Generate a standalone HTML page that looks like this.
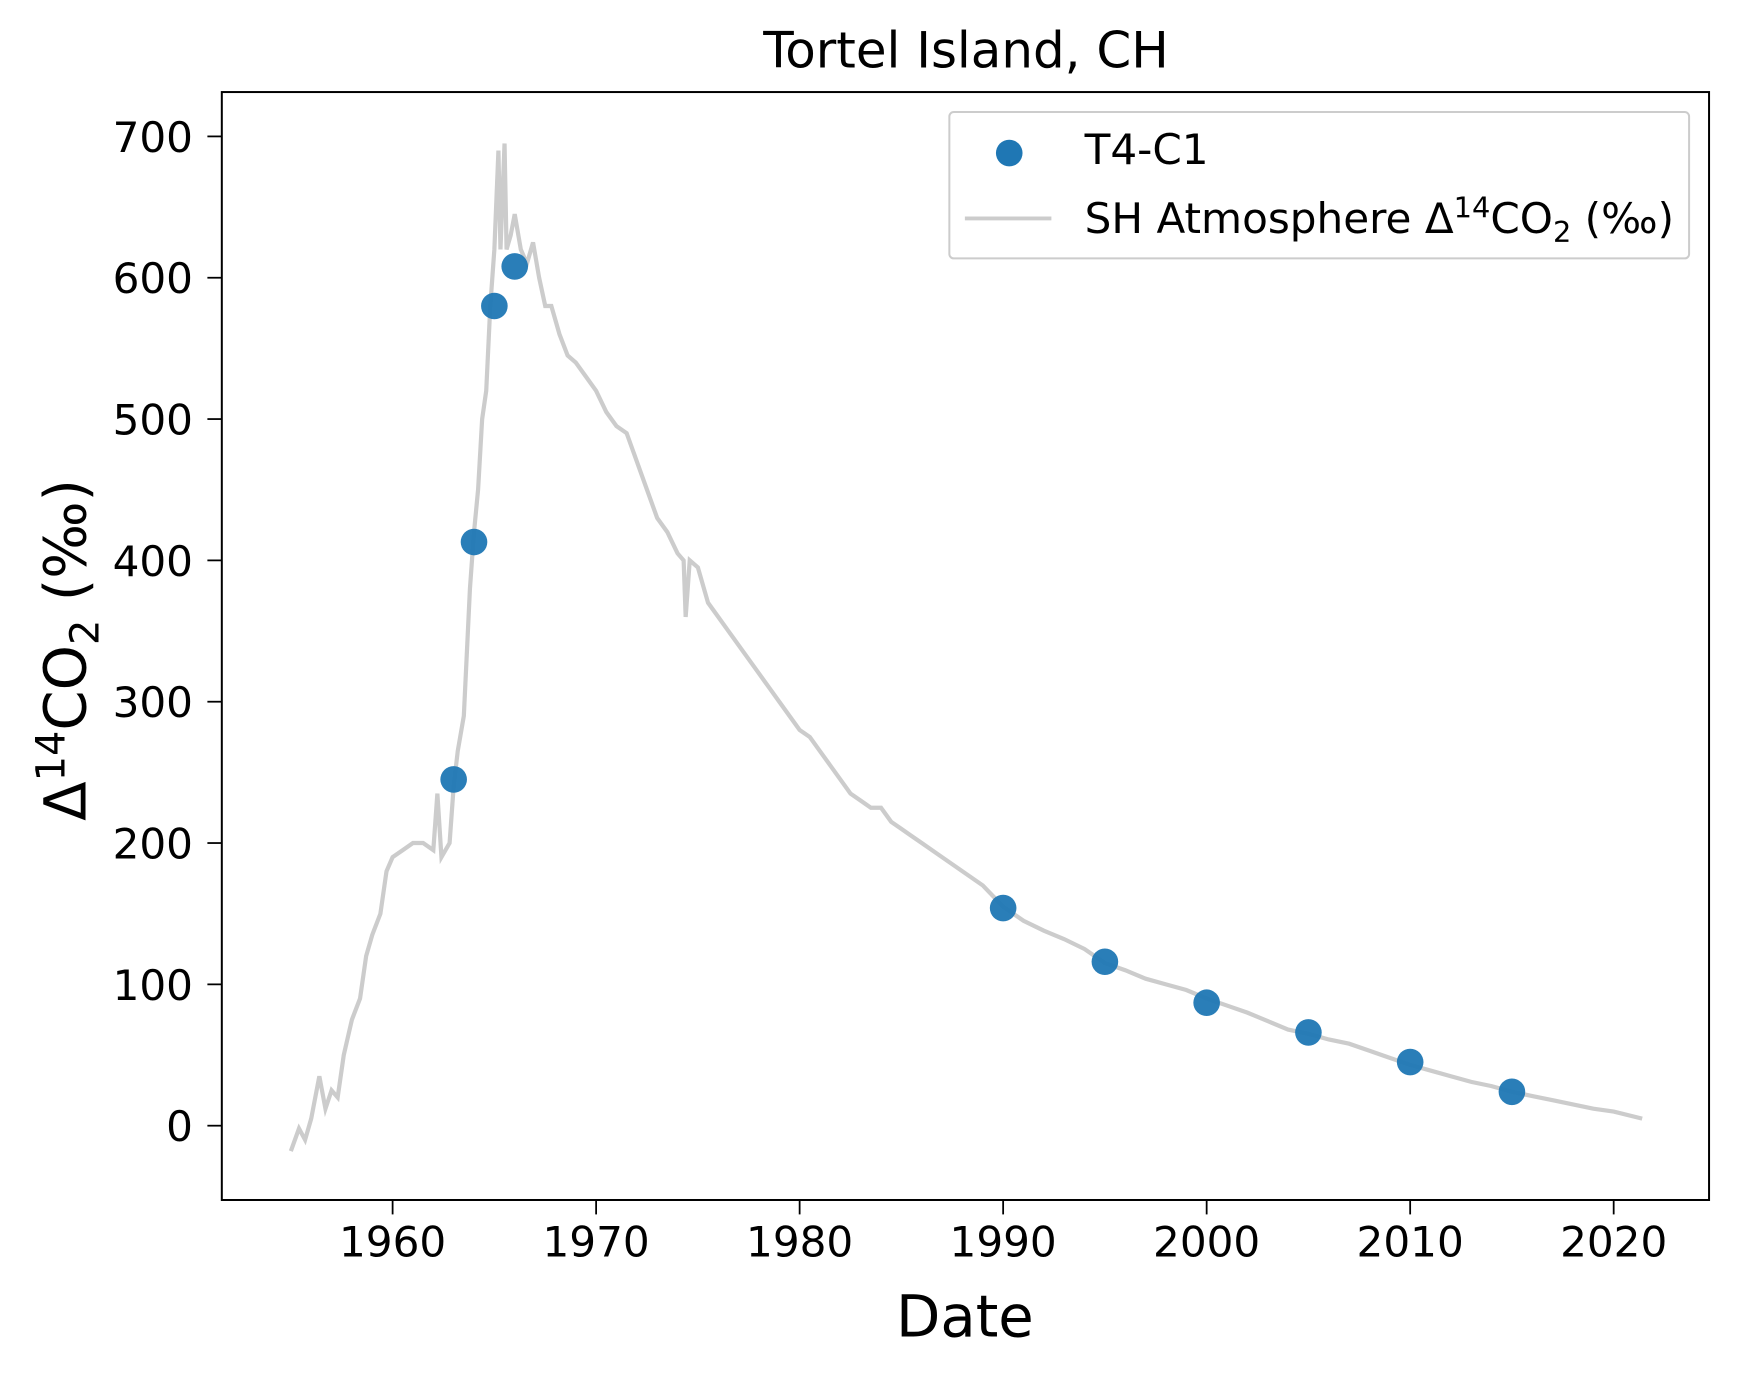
<!DOCTYPE html>
<html><head><meta charset="utf-8"><style>body{margin:0;background:#fff}svg{display:block}text{font-family:"DejaVu Sans","Liberation Sans",sans-serif;fill:#000}</style></head>
<body>
<svg id="chart" width="1739" height="1376" viewBox="0 0 1568 1240.7" preserveAspectRatio="none" xmlns="http://www.w3.org/2000/svg">
<rect width="1568" height="1240.7" fill="#fff"/>
<text x="871" y="61" font-size="45" text-anchor="middle">Tortel Island, CH</text>
<g id="plot"></g>
<rect x="200" y="83" width="1341" height="999" fill="none" stroke="#000" stroke-width="1.8"/>
<g id="ticks"></g>
<text x="870" y="1205" font-size="52" text-anchor="middle">Date</text>
<text transform="translate(77,586) rotate(-90)" font-size="52" text-anchor="middle">Δ<tspan dy="-19" font-size="36">14</tspan><tspan dy="19">CO</tspan><tspan dy="12" font-size="36">2</tspan><tspan dy="-12"> (‰)</tspan></text>
<g>
<rect x="856" y="101" width="667" height="132" rx="4" fill="#fff" fill-opacity="0.8" stroke="#ccc" stroke-width="1.8"/>
<circle cx="910" cy="138" r="12" fill="#1f77b4"/>
<text x="978" y="148" font-size="38">T4-C1</text>
<line x1="870" y1="197" x2="948" y2="197" stroke="#cccccc" stroke-width="3.5"/>
<text x="978" y="210" font-size="38">SH Atmosphere Δ<tspan dy="-14" font-size="26">14</tspan><tspan dy="14">CO</tspan><tspan dy="8" font-size="26">2</tspan><tspan dy="-8"> (‰)</tspan></text>
</g>
</svg>
<script>
const atmYears=[1955.0,1955.4,1955.7,1956.0,1956.4,1956.7,1957.0,1957.3,1957.6,1958.0,1958.4,1958.7,1959.0,1959.4,1959.7,1960.0,1960.5,1961.0,1961.5,1962.0,1962.2,1962.4,1962.8,1963.0,1963.2,1963.5,1963.8,1964.0,1964.2,1964.4,1964.6,1964.8,1965.0,1965.2,1965.3,1965.5,1965.6,1965.8,1966.0,1966.3,1966.6,1966.9,1967.2,1967.5,1967.8,1968.2,1968.6,1969.0,1969.5,1970.0,1970.5,1971.0,1971.5,1972.0,1972.5,1973.0,1973.5,1974.0,1974.3,1974.4,1974.6,1975.0,1975.5,1976.0,1976.5,1977.0,1977.5,1978.0,1978.5,1979.0,1979.5,1980.0,1980.5,1981.0,1981.5,1982.0,1982.5,1983.0,1983.5,1984.0,1984.5,1985.0,1985.5,1986.0,1987.0,1988.0,1989.0,1990.0,1991.0,1992.0,1993.0,1994.0,1995.0,1996.0,1997.0,1998.0,1999.0,2000.0,2001.0,2002.0,2003.0,2004.0,2005.0,2006.0,2007.0,2008.0,2009.0,2010.0,2011.0,2012.0,2013.0,2014.0,2015.0,2016.0,2017.0,2018.0,2019.0,2020.0,2021.4];
const atmValues=[-18,-2,-10,5,35,12,25,20,50,75,90,120,135,150,180,190,195,200,200,195,235,190,200,240,265,290,380,420,450,500,520,580,620,690,620,695,620,630,645,620,610,625,600,580,580,560,545,540,530,520,505,495,490,470,450,430,420,405,400,360,400,395,370,360,350,340,330,320,310,300,290,280,275,265,255,245,235,230,225,225,215,210,205,200,190,180,170,155,145,138,132,125,115,110,104,100,96,90,85,80,74,68,65,61,58,53,48,43,39,35,31,28,24,21,18,15,12,10,5];
const ptYears=[1963,1964,1965,1966,1990,1995,2000,2005,2010,2015];
const ptValues=[245,413,580,608,154,116,87,66,45,24];
const xTicks=[1960,1970,1980,1990,2000,2010,2020];
const yTicks=[0,100,200,300,400,500,600,700];
const NS="http://www.w3.org/2000/svg";
function X(y){return 354+(y-1960)*(1455-354)/60;}
function Y(v){return 1015-v*(1015-123)/700;}
const plot=document.getElementById('plot'),ticks=document.getElementById('ticks');
const pl=document.createElementNS(NS,'polyline');
pl.setAttribute('points',atmYears.map((y,i)=>X(y)+','+Y(atmValues[i])).join(' '));
pl.setAttribute('fill','none');pl.setAttribute('stroke','#cccccc');pl.setAttribute('stroke-width','3.8');


plot.appendChild(pl);
ptYears.forEach((y,i)=>{const c=document.createElementNS(NS,'circle');
c.setAttribute('cx',X(y));c.setAttribute('cy',Y(ptValues[i]));c.setAttribute('r','12');c.setAttribute('fill','#1f77b4');c.setAttribute('fill-opacity','0.95');


plot.appendChild(c);});
xTicks.forEach(t=>{const l=document.createElementNS(NS,'line');l.setAttribute('x1',X(t));l.setAttribute('x2',X(t));l.setAttribute('y1',1082);l.setAttribute('y2',1095);l.setAttribute('stroke','#000');l.setAttribute('stroke-width','1.6');


ticks.appendChild(l);
const tx=document.createElementNS(NS,'text');tx.setAttribute('x',X(t));tx.setAttribute('y',1133);tx.setAttribute('font-size','38');tx.setAttribute('text-anchor','middle');tx.textContent=t;


ticks.appendChild(tx);});
yTicks.forEach(t=>{const l=document.createElementNS(NS,'line');l.setAttribute('x1',187);l.setAttribute('x2',200);l.setAttribute('y1',Y(t));l.setAttribute('y2',Y(t));l.setAttribute('stroke','#000');l.setAttribute('stroke-width','1.6');


ticks.appendChild(l);
const tx=document.createElementNS(NS,'text');tx.setAttribute('x',174);tx.setAttribute('y',Y(t)+14);tx.setAttribute('font-size','38');tx.setAttribute('text-anchor','end');tx.textContent=t;


ticks.appendChild(tx);});
</script>
</body></html>
